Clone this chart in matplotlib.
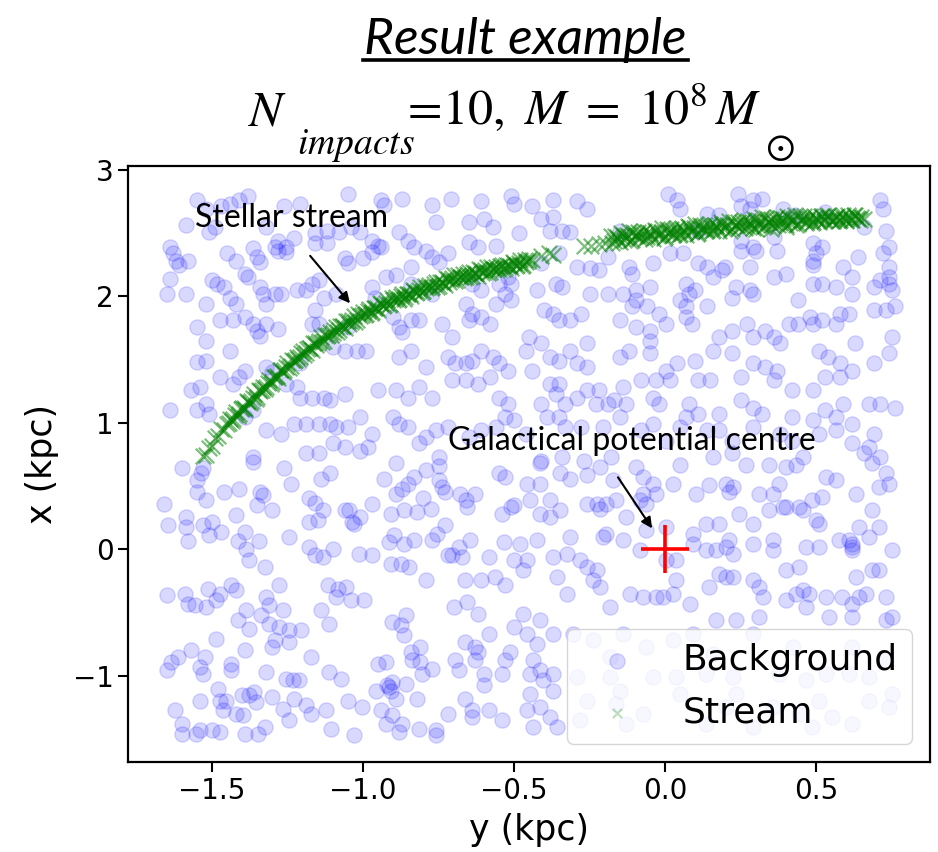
import matplotlib
matplotlib.use("Agg")
import matplotlib.pyplot as plt
from matplotlib.lines import Line2D

# ---------------- data (y kpc horizontal, x kpc vertical) ----------------
bg_upper_left = [
    (-1.55,2.76),(-1.52,2.69),(-1.47,2.71),(-1.44,2.73),(-1.41,2.76),(-1.38,2.79),(-1.26,2.71),(-1.21,2.73),
    (-1.05,2.81),(-0.94,2.76),(-0.93,2.72),(-0.87,2.77),(-0.77,2.72),(-0.71,2.77),(-0.61,2.75),(-0.51,2.79),(-0.50,2.73),
    (-1.585,2.56),(-1.51,2.51),(-1.49,2.55),(-1.32,2.55),(-1.28,2.44),(-1.255,2.39),(-1.23,2.46),(-1.16,2.50),
    (-1.12,2.52),(-1.08,2.51),(-1.04,2.55),(-1.01,2.51),(-0.97,2.44),(-0.95,2.40),(-0.88,2.51),(-0.76,2.59),
    (-0.65,2.59),(-0.60,2.61),(-0.57,2.55),(-0.485,2.50),
    (-1.64,2.39),(-1.63,2.34),(-1.62,2.28),(-1.61,2.25),(-1.58,2.28),(-1.45,2.34),(-1.42,2.28),(-1.365,2.38),
    (-1.35,2.31),(-1.34,2.27),(-1.29,2.39),(-1.28,2.36),(-1.255,2.35),(-1.16,2.42),(-1.12,2.42),(-1.06,2.30),
    (-1.05,2.26),(-1.00,2.30),(-0.97,2.35),(-0.94,2.39),(-0.85,2.44),(-0.83,2.39),(-0.79,2.36),(-0.77,2.31),
    (-0.75,2.27),(-0.72,2.34),(-0.65,2.43),(-0.62,2.39),(-0.56,2.40),
    (-1.64,2.14),(-1.65,2.02),(-1.585,2.02),(-1.50,2.13),(-1.485,2.10),(-1.46,2.07),(-1.44,1.99),(-1.42,1.94),
    (-1.39,2.18),(-1.38,2.15),(-1.34,2.07),(-1.33,2.02),(-1.32,1.94),(-1.29,2.02),(-1.27,2.02),(-1.22,2.05),
    (-1.19,2.05),(-1.17,2.10),(-1.145,2.13),(-1.13,1.99),(-1.09,2.02),(-0.97,2.07),(-0.96,1.99),(-0.925,2.15),
    (-0.89,2.17),(-0.84,2.23),(-0.84,2.10),(-0.77,2.02),(-0.64,2.10),(-0.61,2.05),(-0.55,2.10),(-0.53,2.02),
    (-0.52,2.15),(-0.51,2.10),
    (-1.55,1.76),(-1.52,1.94),(-1.475,1.81),(-1.43,1.81),(-1.39,1.84),(-1.365,1.78),(-1.35,1.73),(-1.34,1.69),
    (-1.32,1.78),(-1.28,1.74),(-1.17,1.78),(-1.16,1.89),(-1.145,1.78),(-1.05,1.76),(-0.90,1.84),(-0.88,1.76),
    (-0.87,1.72),(-0.84,1.81),(-0.815,1.81),(-0.74,1.78),(-0.705,1.68),(-0.66,1.94),(-0.65,1.81),(-0.64,1.86),
    (-0.61,1.84),(-0.58,1.78),(-0.56,1.94),(-0.51,1.97),
    (-1.55,1.48),(-1.52,1.49),(-1.52,1.65),(-1.44,1.57),(-1.32,1.44),(-1.21,1.47),(-1.10,1.60),(-1.06,1.57),
    (-1.02,1.57),(-0.99,1.57),(-0.88,1.52),(-0.84,1.57),(-0.79,1.44),(-0.72,1.52),(-0.695,1.47),(-0.66,1.47),
    (-0.64,1.49),(-0.61,1.57),(-0.57,1.52),(-0.55,1.47),(-0.52,1.41),
    (-1.57,1.26),(-1.54,1.28),(-1.52,1.15),(-1.475,1.36),(-1.43,1.31),(-1.41,1.36),(-1.39,1.41),(-1.30,1.40),
    (-1.255,1.31),(-1.22,1.28),(-1.21,1.20),(-1.17,1.20),(-1.13,1.20),(-1.11,1.18),(-1.06,1.23),(-0.95,1.26),
    (-0.89,1.26),(-0.85,1.20),(-0.815,1.28),(-0.77,1.20),(-0.705,1.34),(-0.66,1.34),(-0.62,1.31),(-0.58,1.36),
    (-0.55,1.20),(-0.52,1.15),
    (-1.64,1.10),(-1.55,1.10),(-1.51,1.07),(-1.39,1.05),(-1.365,1.10),(-1.32,0.94),(-1.27,0.91),(-1.23,0.99),
    (-1.19,0.99),(-1.145,0.99),(-1.11,0.99),(-1.09,0.97),(-1.05,0.97),(-1.01,1.05),(-0.97,0.91),(-0.90,1.05),
    (-0.88,0.99),(-0.85,0.97),(-0.79,0.89),(-0.76,0.94),(-0.72,0.97),(-0.65,0.89),(-0.61,0.94),(-0.56,0.97),
    (-0.53,1.05),(-0.50,1.02),
    (-1.365,0.73),(-1.19,0.76),(-1.145,0.76),(-1.10,0.84),(-1.06,0.81),(-1.01,0.78),(-0.985,0.81),(-0.815,0.84),
    (-0.75,0.73),
]

bg_upper_right = [
    (-0.44,2.71),(-0.37,2.76),(-0.37,2.63),(-0.29,2.75),(-0.26,2.69),(0.01,2.81),(0.04,2.76),(0.05,2.69),
    (0.14,2.65),(0.18,2.64),(0.24,2.81),(0.25,2.71),(0.29,2.76),(0.32,2.77),(0.28,2.69),(0.39,2.69),(0.43,2.64),
    (0.53,2.67),(0.71,2.76),(0.72,2.69),
    (-0.41,2.61),(-0.38,2.52),(-0.34,2.52),(-0.315,2.51),(0.25,2.44),(0.25,2.36),(0.29,2.39),(0.30,2.36),
    (0.36,2.47),(0.37,2.36),(0.49,2.42),(0.52,2.39),(0.66,2.55),(0.73,2.52),(0.74,2.39),(0.11,2.52),(-0.15,2.52),
    (-0.41,2.26),(-0.35,2.34),(-0.29,2.23),(-0.25,2.22),(-0.22,2.21),(-0.19,2.31),(-0.12,2.23),(-0.11,2.18),
    (-0.04,2.26),(0.015,2.34),(0.06,2.34),(0.11,2.26),(0.14,2.23),(0.16,2.15),(0.19,2.21),(0.20,2.23),
    (0.28,2.23),(0.36,2.15),(0.40,2.18),(0.49,2.28),(0.49,2.25),(0.50,2.34),(0.59,2.23),(0.62,2.15),
    (0.64,2.31),(0.72,2.34),(0.74,2.23),(0.74,2.15),(0.74,2.10),
    (-0.425,2.05),(-0.36,2.10),(-0.34,2.07),(-0.25,2.02),(-0.19,2.02),(-0.14,2.02),(-0.095,2.05),(-0.05,2.07),
    (-0.095,1.97),(-0.11,1.92),(-0.06,1.92),(-0.02,1.86),(0.05,1.97),(0.07,2.10),(0.08,2.02),(0.07,1.92),
    (0.14,1.92),(0.10,2.05),(0.22,1.99),(0.235,2.07),(0.28,2.05),(0.29,2.02),(0.44,1.97),(0.49,2.10),
    (0.52,2.10),(0.565,2.07),(0.58,1.86),(0.62,2.02),(0.69,2.07),(0.71,2.13),(0.75,2.05),(0.76,1.92),
    (-0.40,1.89),(-0.37,1.86),(-0.35,1.81),(-0.315,1.81),(-0.28,1.86),(-0.15,1.81),(-0.095,1.76),(-0.05,1.73),
    (-0.05,1.65),(0.004,1.78),(0.07,1.84),(0.09,1.78),(0.18,1.68),(0.22,1.73),(0.27,1.78),(0.29,1.68),
    (0.33,1.73),(0.36,1.68),(0.38,1.63),(0.41,1.78),(0.44,1.78),(0.48,1.84),(0.49,1.78),(0.52,1.81),
    (0.565,1.78),(0.61,1.86),(0.63,1.63),(0.69,1.89),(0.73,1.89),(0.75,1.68),(-0.45,1.68),(-0.41,1.63),
    (-0.315,1.57),
    (-0.46,1.57),(-0.38,1.52),(-0.35,1.49),(-0.29,1.47),(-0.26,1.63),(-0.26,1.44),(-0.15,1.52),(-0.12,1.57),
    (-0.05,1.55),(0.004,1.41),(0.04,1.47),(0.10,1.49),(0.16,1.57),(0.22,1.55),(0.29,1.47),(0.33,1.44),
    (0.37,1.41),(0.51,1.57),(0.54,1.52),(0.58,1.47),(0.62,1.41),(0.69,1.47),(0.74,1.55),(-0.44,1.41),
    (-0.38,1.31),(-0.35,1.31),(-0.14,1.28),(-0.08,1.34),(-0.03,1.34),(0.015,1.34),(0.11,1.34),(0.15,1.34),
    (0.25,1.36),(0.36,1.34),(0.42,1.26),(0.49,1.26),(0.53,1.36),(0.58,1.36),
    (-0.41,1.15),(-0.36,1.23),(-0.33,1.15),(-0.29,1.20),(-0.26,1.26),(-0.22,1.26),(-0.23,1.15),(-0.19,1.15),
    (-0.17,1.18),(-0.13,1.15),(-0.04,1.20),(-0.02,1.15),(0.08,1.15),(0.11,1.07),(0.18,1.07),(0.25,1.18),
    (0.29,1.12),(0.32,1.07),(0.42,1.05),(0.49,1.02),(0.53,1.10),(0.59,1.15),(0.565,1.05),(0.62,0.99),
    (0.675,1.15),(0.71,1.15),(0.76,1.12),
    (-0.46,0.91),(-0.39,1.05),(-0.35,1.05),(-0.33,0.97),(-0.28,0.97),(-0.205,0.97),(-0.15,1.05),(-0.08,0.94),
    (-0.04,0.99),(0.004,0.86),(0.05,0.97),(0.07,1.05),(0.14,0.94),(0.18,0.94),(0.22,0.86),(0.29,0.97),
    (0.38,0.91),(0.42,0.86),(0.51,0.91),(0.565,0.94),(0.62,0.84),(0.675,0.81),(0.69,0.91),(0.66,0.76),
    (0.71,0.73),(-0.41,0.70),(-0.34,0.73),(-0.27,0.70),(-0.18,0.73),(0.16,0.73),(0.22,0.76),(0.455,0.73),
]

bg_lower_left = [
    (-1.60,0.64),(-1.53,0.64),(-1.535,0.60),(-1.55,0.545),(-1.55,0.45),(-1.52,0.39),(-1.46,0.45),(-1.41,0.48),
    (-1.365,0.69),(-1.35,0.35),(-1.34,0.45),(-1.33,0.43),(-1.30,0.31),(-1.26,0.64),(-1.24,0.52),(-1.18,0.41),
    (-1.16,0.37),(-1.134,0.31),(-1.14,0.56),(-1.11,0.60),(-1.06,0.31),(-1.035,0.22),(-1.01,0.26),(-0.97,0.36),
    (-0.93,0.56),(-0.89,0.68),(-0.89,0.44),(-0.87,0.48),(-0.85,0.52),(-0.83,0.57),(-0.80,0.41),(-0.79,0.625),
    (-0.75,0.66),(-0.75,0.545),(-0.74,0.49),(-0.73,0.45),(-0.68,0.44),(-0.66,0.39),(-0.63,0.44),(-0.55,0.60),
    (-0.53,0.57),(-0.54,0.28),(-0.51,0.335),(-0.50,0.35),
    (-1.66,0.36),(-1.645,0.19),(-1.585,0.256),(-1.585,0.177),(-1.58,0.07),(-1.53,0.19),(-1.51,0.11),(-1.50,0.216),
    (-1.47,0.137),(-1.42,0.27),(-1.39,0.137),(-1.415,0.07),(-1.387,0.005),(-1.376,-0.087),(-1.343,0.07),
    (-1.326,-0.14),(-1.244,0.098),(-1.18,0.216),(-1.15,0.23),(-1.178,0.019),(-1.16,-0.047),(-1.134,-0.06),
    (-1.10,0.005),(-1.046,0.308),(-1.03,0.203),(-1.013,-0.034),(-0.969,-0.047),(-0.914,0.058),(-0.897,0.111),
    (-0.864,0.045),(-0.83,0.071),(-0.908,-0.113),(-0.875,-0.113),(-0.848,-0.14),(-0.908,0.282),(-0.864,0.308),
    (-0.82,0.295),(-0.776,0.321),(-0.771,0.071),(-0.755,0.124),(-0.73,0.19),(-0.72,-0.047),(-0.705,-0.047),
    (-0.672,-0.06),(-0.683,0.019),(-0.645,0.071),(-0.655,0.335),(-0.584,-0.06),(-0.534,0.058),(-0.50,-0.087),
    (-1.65,-0.363),(-1.59,-0.35),(-1.58,-0.43),(-1.557,-0.443),(-1.52,-0.456),(-1.513,-0.311),(-1.486,-0.403),
    (-1.475,-0.35),(-1.436,-0.284),(-1.42,-0.324),(-1.414,-0.561),(-1.387,-0.482),(-1.376,-0.627),(-1.337,-0.522),
    (-1.321,-0.377),(-1.31,-0.443),(-1.277,-0.284),(-1.266,-0.482),(-1.31,-0.587),(-1.277,-0.614),(-1.244,-0.64),
    (-1.205,-0.64),(-1.29,-0.719),(-1.244,-0.732),(-1.30,-0.772),(-1.14,-0.482),(-1.117,-0.284),(-1.084,-0.311),
    (-1.09,-0.377),(-1.057,-0.298),(-1.04,-0.403),(-0.996,-0.403),(-1.112,-0.587),(-0.793,-0.245),(-0.661,-0.245),
    (-0.61,-0.245),(-0.562,-0.219),(-0.529,-0.284),(-0.70,-0.456),(-0.655,-0.416),(-0.62,-0.508),(-0.903,-0.574),
    (-0.875,-0.601),(-0.859,-0.522),(-0.864,-0.68),(-0.584,-0.666),(-0.50,-0.614),
    (-1.65,-0.956),(-1.634,-0.89),(-1.612,-0.851),(-1.568,-0.798),(-1.524,-0.851),(-1.54,-0.93),(-1.53,-0.983),
    (-1.486,-0.706),(-1.436,-0.904),(-1.436,-0.956),(-1.392,-0.798),(-1.321,-0.969),(-1.255,-1.022),
    (-1.233,-1.035),(-1.211,-1.035),(-1.172,-0.851),(-1.112,-0.969),(-1.073,-1.022),(-0.952,-0.904),
    (-0.925,-0.89),(-0.914,-1.088),(-0.903,-1.049),(-0.859,-1.062),(-0.842,-0.811),(-0.81,-0.772),(-0.837,-0.877),
    (-0.81,-0.89),(-0.804,-0.983),(-0.771,-0.943),(-0.694,-0.877),(-0.683,-0.956),(-0.661,-0.732),(-0.628,-0.772),
    (-0.62,-0.811),(-0.628,-0.877),(-0.60,-0.983),(-0.60,-1.075),(-0.54,-0.983),(-0.529,-0.877),(-0.512,-0.811),
    (-1.623,-1.273),(-1.60,-1.378),(-1.60,-1.457),(-1.552,-1.457),(-1.54,-1.43),(-1.54,-1.194),(-1.50,-1.43),
    (-1.475,-1.444),(-1.48,-1.101),(-1.475,-1.194),(-1.453,-1.194),(-1.464,-1.273),(-1.42,-1.299),(-1.398,-1.312),
    (-1.40,-1.154),(-1.376,-1.154),(-1.36,-1.128),(-1.354,-1.207),(-1.392,-1.457),(-1.348,-1.457),(-1.326,-1.404),
    (-1.30,-1.167),(-1.266,-1.26),(-1.244,-1.352),(-1.228,-1.18),(-1.189,-1.233),(-1.172,-1.299),(-1.123,-1.273),
    (-1.106,-1.417),(-1.05,-1.194),(-1.03,-1.47),(-1.002,-1.246),(-0.958,-1.115),(-0.94,-1.273),(-0.925,-1.378),
    (-0.903,-1.312),(-0.892,-1.18),(-0.87,-1.378),(-0.881,-1.444),(-0.82,-1.18),(-0.815,-1.417),(-0.76,-1.43),
    (-0.76,-1.47),(-0.72,-1.299),(-0.661,-1.18),(-0.639,-1.273),(-0.639,-1.325),(-0.584,-1.273),(-0.54,-1.352),
    (-0.919,-1.075),(-0.908,-1.115),
]

bg_lower_right = [
    (-0.458,0.52),(-0.414,0.52),(-0.38,0.387),(-0.348,0.60),(-0.315,0.558),(-0.26,0.585),(-0.216,0.65),
    (-0.172,0.545),(-0.095,0.65),(-0.073,0.572),(-0.04,0.52),(-0.073,0.44),(-0.029,0.44),(0.026,0.52),
    (0.048,0.664),(0.103,0.44),(0.147,0.51),(0.202,0.52),(0.213,0.453),(0.224,0.493),(0.268,0.664),
    (0.312,0.44),(0.356,0.44),(0.378,0.52),(0.345,0.664),(0.40,0.65),(0.433,0.664),(0.40,0.335),(0.455,0.308),
    (0.488,0.387),(0.521,0.414),(0.532,0.572),(0.565,0.545),(0.631,0.44),(0.686,0.68),(0.708,0.493),(0.73,0.60),
    (0.741,0.52),(-0.414,0.68),
    (-0.447,0.387),(-0.414,0.282),(-0.381,0.256),(-0.348,0.308),(-0.315,0.098),(-0.26,0.361),(-0.227,0.361),
    (-0.194,0.361),(-0.216,0.321),(-0.161,0.387),(-0.128,0.256),(-0.062,0.361),(-0.062,0.15),(-0.084,0.387),
    (0.004,0.177),(0.092,0.124),(0.136,0.203),(0.18,0.203),(0.246,0.282),(0.29,0.203),(0.345,0.308),
    (0.389,0.335),(0.444,0.335),(0.499,0.23),(0.51,0.203),(0.576,0.071),(0.609,0.071),(0.62,0.019),
    (0.642,0.177),(0.686,0.308),(0.708,0.177),(0.752,-0.008),(0.675,0.098),
    (-0.48,0.045),(-0.458,-0.087),(-0.425,0.071),(-0.37,-0.06),(-0.326,-0.034),(-0.282,-0.087),(-0.26,-0.14),
    (-0.227,-0.166),(-0.205,0.098),(-0.194,0.124),(-0.139,0.071),(-0.084,-0.008),(0.004,-0.087),(0.037,-0.087),
    (0.092,0.045),(0.136,-0.008),(0.169,-0.008),(0.202,0.019),(0.213,0.071),(0.224,-0.034),(0.29,0.045),
    (0.356,0.071),(0.356,-0.008),(0.40,-0.166),(0.444,-0.14),(0.466,0.019),(0.51,0.019),(0.62,-0.008),(0.62,0.045),
    (-0.469,-0.166),(-0.359,-0.219),(-0.326,-0.35),(-0.238,-0.245),(-0.216,-0.298),(-0.183,-0.456),(-0.117,-0.35),
    (-0.073,-0.377),(-0.029,-0.377),(-0.007,-0.377),(0.026,-0.35),(0.037,-0.245),(0.081,-0.43),(0.147,-0.298),
    (0.18,-0.192),(0.202,-0.219),(0.224,-0.219),(0.29,-0.245),(0.312,-0.298),(0.323,-0.377),(0.40,-0.403),
    (0.433,-0.35),(0.455,-0.324),(0.477,-0.35),(0.466,-0.456),(0.532,-0.377),(0.587,-0.377),(0.62,-0.43),
    (0.642,-0.377),(0.664,-0.35),(0.686,-0.166),(0.708,-0.166),(0.73,-0.377),(0.752,-0.535),(0.169,-0.561),
    (0.235,-0.561),(0.312,-0.535),(0.543,-0.535),(0.62,-0.535),(0.631,-0.219),(0.73,-0.561),
    (-0.469,-0.508),(-0.414,-0.561),(-0.458,-0.666),(-0.425,-0.746),(-0.37,-0.666),(-0.436,-0.877),
    (-0.447,-0.983),(-0.414,-0.956),(-0.403,-1.035),(-0.37,-0.983),(-0.37,-1.115),(-0.447,-1.141),
    (-0.414,-1.246),(-0.381,-1.325),(-0.359,-1.404),(-0.458,-1.273),(-0.436,-1.404),(-0.183,-0.851),
    (-0.304,-0.666),(-0.238,-0.719),(-0.139,-0.666),(-0.062,-0.772),(0.026,-0.719),(0.092,-0.666),(0.29,-0.666),
    (-0.293,-1.009),(-0.183,-1.009),(-0.15,-1.115),(-0.04,-1.009),(0.037,-1.009),(0.136,-0.983),(0.224,-1.009),
    (0.378,-0.983),(0.466,-1.035),(0.532,-0.983),(0.609,-0.983),(0.675,-1.009),(-0.26,-1.194),(-0.161,-1.22),
    (-0.073,-1.299),(0.048,-1.141),(0.202,-1.246),(0.356,-1.246),(0.444,-1.299),(0.554,-1.325),(0.675,-1.194),
    (0.741,-1.246),(0.752,-1.141),(-0.282,-1.352),(-0.128,-1.378),(0.136,-1.378),(0.29,-1.404),(0.488,-1.404),
    (0.62,-1.378),(0.158,-0.825),(0.422,-0.772),(0.62,-0.772),(0.73,-0.877),(0.235,-1.141),(0.51,-1.194),
]

# stream: inner arc (two passes of read-off points), gap stragglers, outer tail (two passes)
stream_arc_y = [
    -1.530,-1.520,-1.510,-1.500,-1.490,-1.480,-1.470,-1.460,-1.450,-1.440,-1.430,-1.420,-1.410,-1.400,
    -1.390,-1.380,-1.370,-1.360,-1.350,-1.340,-1.330,-1.320,-1.310,-1.300,-1.290,-1.280,-1.270,-1.260,
    -1.250,-1.240,-1.230,-1.220,-1.210,-1.200,-1.190,-1.180,-1.170,-1.160,-1.150,-1.140,-1.130,-1.120,
    -1.110,-1.100,-1.090,-1.080,-1.070,-1.060,-1.050,-1.040,-1.030,-1.020,-1.010,-1.000,-0.990,-0.980,
    -0.970,-0.960,-0.950,-0.940,-0.930,-0.920,-0.910,-0.900,-0.890,-0.880,-0.870,-0.860,-0.850,-0.840,
    -0.830,-0.820,-0.810,-0.800,-0.790,-0.780,-0.770,-0.760,-0.750,-0.740,-0.730,-0.720,-0.710,-0.700,
    -0.690,-0.680,-0.670,-0.660,-0.650,-0.640,-0.630,-0.620,-0.610,-0.600,-0.590,-0.580,-0.570,-0.560,
    -0.550,-0.540,-0.530,-0.520,-0.510,-0.500,-0.490,-0.480,-0.470,-0.460,-0.450,
]
stream_arc_x = [
    0.740,0.745,0.805,0.815,0.882,0.895,0.955,0.940,0.990,1.029,1.028,1.082,1.071,1.115,
    1.108,1.168,1.174,1.227,1.205,1.248,1.286,1.284,1.337,1.325,1.366,1.357,1.415,1.419,
    1.470,1.446,1.487,1.523,1.519,1.570,1.552,1.589,1.576,1.630,1.630,1.677,1.649,1.686,
    1.718,1.710,1.754,1.733,1.767,1.751,1.802,1.799,1.843,1.812,1.846,1.875,1.861,1.902,
    1.878,1.909,1.890,1.938,1.932,1.973,1.939,1.970,1.994,1.978,2.017,1.991,2.020,1.999,
    2.045,2.037,2.076,2.040,2.068,2.091,2.074,2.112,2.085,2.113,2.091,2.136,2.127,2.165,
    2.126,2.152,2.173,2.154,2.190,2.161,2.187,2.163,2.206,2.195,2.230,2.190,2.215,2.235,
    2.215,2.250,2.220,2.245,2.220,2.262,2.251,2.287,2.248,2.274,2.295,
]
stream_arc2_y = [
    -1.445,-1.435,-1.425,-1.415,-1.405,-1.395,-1.385,-1.375,-1.365,-1.355,-1.345,-1.335,-1.325,-1.315,
    -1.305,-1.295,-1.285,-1.275,-1.265,-1.255,-1.245,-1.235,-1.225,-1.215,-1.205,-1.195,-1.185,-1.175,
    -1.165,-1.155,-1.145,-1.135,-1.125,-1.115,-1.105,-1.095,-1.085,-1.075,-1.065,-1.055,-1.045,-1.035,
    -1.025,-1.015,-1.005,-0.995,-0.985,-0.975,-0.965,-0.955,-0.945,-0.935,-0.925,-0.915,-0.905,-0.895,
    -0.885,-0.875,-0.865,-0.855,-0.845,-0.835,-0.825,-0.815,-0.805,-0.795,-0.785,-0.775,-0.765,-0.755,
    -0.745,-0.735,-0.725,-0.715,-0.705,-0.695,-0.685,-0.675,-0.665,-0.655,-0.645,-0.635,-0.625,-0.615,
    -0.605,-0.595,-0.585,-0.575,-0.565,-0.555,-0.545,-0.535,-0.525,-0.515,-0.505,-0.495,-0.485,-0.475,
    -0.465,-0.455,
]
stream_arc2_x = [
    1.002,1.011,1.060,1.054,1.108,1.117,1.170,1.156,1.196,1.189,1.257,1.260,1.268,1.316,
    1.309,1.361,1.367,1.418,1.402,1.440,1.431,1.497,1.498,1.504,1.550,1.539,1.586,1.588,
    1.635,1.615,1.649,1.636,1.698,1.695,1.697,1.737,1.721,1.765,1.764,1.808,1.785,1.816,
    1.800,1.859,1.853,1.851,1.887,1.868,1.909,1.905,1.946,1.920,1.948,1.929,1.985,1.975,
    1.969,2.003,1.982,2.021,2.015,2.054,2.026,2.052,2.031,2.084,2.072,2.065,2.098,2.076,
    2.114,2.107,2.145,2.116,2.141,2.118,2.169,2.155,2.146,2.177,2.153,2.189,2.180,2.216,
    2.185,2.208,2.183,2.233,2.218,2.208,2.238,2.213,2.248,2.238,2.273,2.241,2.264,2.240,
    2.291,2.277,
]
stream_gap_y = [-0.44, -0.41, -0.385, -0.37, -0.27, -0.245, -0.22, -0.20, 0.30, 0.35, 0.40]
stream_gap_x = [2.29, 2.32, 2.34, 2.33, 2.40, 2.395, 2.41, 2.42, 2.53, 2.535, 2.55]
stream_tail_y = [
    -0.18,-0.17,-0.16,-0.15,-0.14,-0.13,-0.12,-0.11,-0.10,-0.09,-0.08,-0.07,-0.06,-0.05,-0.04,-0.03,
    -0.02,-0.01,0.00,0.01,0.02,0.03,0.04,0.05,0.06,0.07,0.08,0.09,0.10,0.11,0.12,0.13,0.14,0.15,0.16,
    0.17,0.18,0.19,0.20,0.21,0.22,0.23,0.24,0.25,0.26,0.27,0.28,0.29,0.30,0.31,0.32,0.33,0.34,0.35,
    0.36,0.37,0.38,0.39,0.40,0.41,0.42,0.43,0.44,0.45,0.46,0.47,0.48,0.49,0.50,0.51,0.52,0.53,0.54,
    0.55,0.56,0.57,0.58,0.59,0.60,0.61,0.62,0.63,0.64,0.65,0.66,
]
stream_tail_x = [
    2.480,2.434,2.468,2.426,2.485,2.459,2.513,2.446,2.480,2.507,2.469,2.516,2.468,2.500,2.457,2.514,
    2.486,2.538,2.470,2.503,2.531,2.494,2.542,2.495,2.528,2.486,2.544,2.517,2.570,2.503,2.535,2.563,
    2.525,2.573,2.525,2.558,2.515,2.573,2.545,2.598,2.530,2.563,2.590,2.553,2.600,2.553,2.585,2.543,
    2.600,2.572,2.624,2.556,2.588,2.615,2.577,2.624,2.576,2.608,2.565,2.621,2.592,2.643,2.574,2.605,
    2.631,2.592,2.638,2.589,2.620,2.586,2.631,2.602,2.642,2.593,2.614,2.634,2.605,2.641,2.597,2.627,
    2.603,2.639,2.614,2.630,2.610,
]
stream_tail2_y = [
    -0.175,-0.165,-0.155,-0.145,-0.135,-0.125,-0.115,-0.105,-0.095,-0.085,-0.075,-0.065,-0.055,-0.045,
    -0.035,-0.025,-0.015,-0.005,0.005,0.015,0.025,0.035,0.045,0.055,0.065,0.075,0.085,0.095,0.105,
    0.115,0.125,0.135,0.145,0.155,0.165,0.175,0.185,0.195,0.205,0.215,0.225,0.235,0.245,0.255,0.265,
    0.275,0.285,0.295,0.305,0.315,0.325,0.335,0.345,0.355,0.365,0.375,0.385,0.395,0.405,0.415,0.425,
    0.435,0.445,0.455,0.465,0.475,0.485,0.495,0.505,0.515,0.525,0.535,0.545,0.555,0.565,0.575,0.585,
    0.595,0.605,0.615,0.625,0.635,0.645,
]
stream_tail2_x = [
    2.422,2.476,2.450,2.498,2.447,2.481,2.435,2.508,2.481,2.458,2.500,2.457,2.509,2.481,
    2.528,2.475,2.507,2.459,2.532,2.505,2.483,2.526,2.484,2.537,2.510,2.558,2.506,2.539,2.491,
    2.564,2.536,2.514,2.556,2.514,2.566,2.539,2.586,2.534,2.566,2.519,2.591,2.564,2.541,2.584,2.541,
    2.594,2.566,2.614,2.561,2.593,2.545,2.617,2.589,2.566,2.608,2.565,2.617,2.589,2.636,2.582,2.613,
    2.564,2.635,2.606,2.582,2.623,2.579,2.630,2.604,2.636,2.598,2.633,2.613,2.596,2.624,2.594,2.630,
    2.610,2.642,2.604,2.640,2.619,2.602,
]
centre_y, centre_x = [0.0], [0.0]

x_ticks = [-1.5, -1.0, -0.5, 0.0, 0.5]
y_ticks = [-1, 0, 1, 2, 3]

# ---------------- figure ----------------
W, H = 938, 852
fig = plt.figure(figsize=(W / 100, H / 100), dpi=100)
ax = fig.add_axes([128 / W, 1 - 762 / H, (930 - 128) / W, (762 - 166) / H])

bg = bg_upper_left + bg_upper_right + bg_lower_left + bg_lower_right
bg_h = [p[0] for p in bg]
bg_v = [p[1] for p in bg]
ax.scatter(bg_h, bg_v, s=120, color="blue", alpha=0.15, label="Background", zorder=2)

s_h = stream_arc_y + stream_arc2_y + stream_gap_y + stream_tail_y + stream_tail2_y
s_v = stream_arc_x + stream_arc2_x + stream_gap_x + stream_tail_x + stream_tail2_x
ax.scatter(s_h, s_v, s=125, marker="x", color="green", alpha=0.5, linewidths=1.6,
           label="Stream", zorder=3)

ax.plot(centre_y, centre_x, marker="+", color="red", ms=34, mew=2.6, ls="none", zorder=4)

ax.set_xlim(-1.778, 0.877)
ax.set_ylim(-1.68, 3.03)
ax.set_xticks(x_ticks)
ax.set_yticks(y_ticks)
ax.tick_params(labelsize=20, length=7, width=1.5)
for sp in ax.spines.values():
    sp.set_linewidth(1.6)
ax.set_xlabel("y (kpc)", fontsize=25, labelpad=6)
ax.set_ylabel("x (kpc)", fontsize=25, labelpad=10)

leg = ax.legend(loc="lower right", fontsize=26)
leg.legend_handles[1].set_sizes([45])
leg.legend_handles[1].set_alpha(0.25)

ann_font = dict(family=["Lato", "DejaVu Sans"], fontsize=23, color="black")
arrow_kw = dict(arrowstyle="-|>", color="black", lw=1.5, mutation_scale=16, shrinkA=0, shrinkB=0)
ax.text(-1.555, 2.62, "Stellar stream", ha="left", va="center", zorder=6, **ann_font)
ax.annotate("", xy=(-1.043, 1.945), xytext=(-1.175, 2.32), arrowprops=arrow_kw, zorder=6)
ax.text(-0.72, 0.86, "Galactical potential centre", ha="left", va="center", zorder=6, **ann_font)
ax.annotate("", xy=(-0.043, 0.166), xytext=(-0.156, 0.57), arrowprops=arrow_kw, zorder=6)

# titles
fig.text(525 / W, 1 - 54 / H, "Result example", ha="center", va="baseline",
         fontsize=37, style="italic", family=["Lato", "DejaVu Sans"])
fig.add_artist(Line2D([363 / W, 688 / W], [1 - 60 / H, 1 - 60 / H], color="black", lw=2.6))
plt.rcParams["mathtext.fontset"] = "stix"
fig.text(247 / W, 1 - 125 / H, r"$N$", ha="left", va="baseline", fontsize=36)
fig.text(297 / W, 1 - 154 / H, r"$impacts$", ha="left", va="baseline", fontsize=27)
fig.text(400 / W, 1 - 125 / H, r"$=\!10,\ M\ =\ 10^{8}\,M$", ha="left", va="baseline", fontsize=36)
fig.text(765 / W, 1 - 158 / H, r"$\odot$", ha="left", va="baseline", fontsize=28)

fig.savefig("out.png", dpi=100)
